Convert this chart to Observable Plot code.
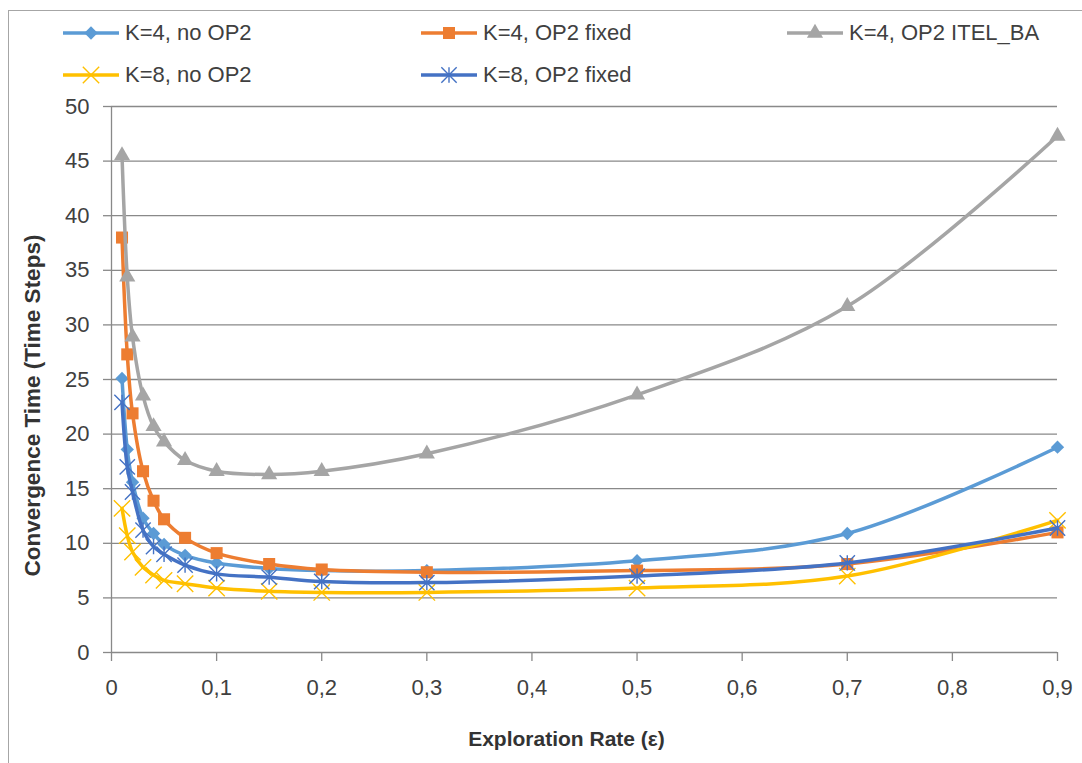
<!DOCTYPE html>
<html><head><meta charset="utf-8">
<script src="https://cdn.jsdelivr.net/npm/d3@7"></script>
<script src="https://cdn.jsdelivr.net/npm/@observablehq/plot@0.6"></script>
<style>
body{margin:0;background:#fff;font-family:"Liberation Sans",Arial,sans-serif;}
#wrap{position:relative;width:1082px;height:763px;overflow:hidden;}
#frame{position:absolute;left:8px;top:10px;width:1200px;height:900px;border-left:1.5px solid #a6a6a6;border-top:1.5px solid #a6a6a6;pointer-events:none;}
#legend{position:relative;height:95px;}
.item{position:absolute;display:flex;align-items:center;height:28px;font-size:22px;color:#404040;white-space:nowrap;}
.item svg{margin-right:6px;}
#chart{position:relative;}
</style></head>
<body>
<div id="wrap">
<div id="frame"></div>
<div id="legend"></div>
<div id="chart"></div>
</div>
<script>
// ---- data ----
const eps = [0.01, 0.015, 0.02, 0.03, 0.04, 0.05, 0.07, 0.1, 0.15, 0.2, 0.3, 0.5, 0.7, 0.9];
const k4NoOP2    = [25.1, 18.6, 15.6, 12.3, 10.9, 9.9, 8.9, 8.2, 7.7, 7.5, 7.5, 8.4, 10.9, 18.8];
const k4OP2Fixed = [38.0, 27.3, 21.9, 16.6, 13.9, 12.2, 10.5, 9.1, 8.1, 7.6, 7.35, 7.5, 8.1, 11.0];
const k4OP2Itel  = [45.5, 34.4, 28.9, 23.5, 20.7, 19.3, 17.6, 16.6, 16.3, 16.6, 18.2, 23.6, 31.7, 47.3];
const k8NoOP2    = [13.2, 10.7, 9.2, 7.8, 7.1, 6.6, 6.3, 5.9, 5.6, 5.5, 5.5, 5.9, 7.0, 12.1];
const k8OP2Fixed = [22.9, 17.0, 14.7, 11.2, 9.7, 9.0, 8.0, 7.2, 6.9, 6.5, 6.4, 7.0, 8.2, 11.4];
const seriesNames = ["K=4, no OP2", "K=4, OP2 fixed", "K=4, OP2 ITEL_BA", "K=8, no OP2", "K=8, OP2 fixed"];
const xTicks = [0, 0.1, 0.2, 0.3, 0.4, 0.5, 0.6, 0.7, 0.8, 0.9];
const yTicks = [0, 5, 10, 15, 20, 25, 30, 35, 40, 45, 50];
const xTitle = "Exploration Rate (ε)";
const yTitle = "Convergence Time (Time Steps)";

// Excel-style "star" marker: X with a vertical bar
const starSymbol = {
  draw(context, size) {
    const r = Math.sqrt(size / Math.PI) * 1.05;
    context.moveTo(-r, -r); context.lineTo(r, r);
    context.moveTo(-r, r); context.lineTo(r, -r);
    context.moveTo(0, -r); context.lineTo(0, r);
  }
};

const styles = [
  {color: "#5B9BD5", symbol: "diamond2", r: 6.0, filled: true},
  {color: "#ED7D31", symbol: "square", r: 6.8, filled: true},
  {color: "#A5A5A5", symbol: "triangle", r: 6.0, filled: true},
  {color: "#FFC000", symbol: "times", r: 7.5, filled: false},
  {color: "#4472C4", symbol: starSymbol, r: 7.3, filled: false}
];
const valuesList = [k4NoOP2, k4OP2Fixed, k4OP2Itel, k8NoOP2, k8OP2Fixed];

const series = seriesNames.map((name, k) => ({
  name, ...styles[k],
  data: eps.map((e, i) => ({eps: e, t: valuesList[k][i]}))
}));

// ---- legend ----
const legendPos = [
  {x: 63, y: 33}, {x: 421, y: 33}, {x: 787, y: 33},
  {x: 63, y: 75}, {x: 421, y: 75}
];
const legend = document.getElementById("legend");
series.forEach((s, k) => {
  const div = document.createElement("div");
  div.className = "item";
  div.style.left = legendPos[k].x + "px";
  div.style.top = (legendPos[k].y - 14) + "px";
  const svg = d3.create("svg").attr("width", 56).attr("height", 22);
  svg.append("line").attr("x1", 0).attr("x2", 56).attr("y1", 11).attr("y2", 11)
    .attr("stroke", s.color).attr("stroke-width", 3.5);
  const symType = typeof s.symbol === "string"
    ? {diamond2: d3.symbolDiamond2, square: d3.symbolSquare, triangle: d3.symbolTriangle, times: d3.symbolTimes}[s.symbol]
    : s.symbol;
  const path = d3.symbol(symType, s.r * s.r * Math.PI)();
  const p = svg.append("path").attr("d", path).attr("transform", "translate(28,11)");
  if (s.filled) p.attr("fill", s.color).attr("stroke", "none");
  else p.attr("fill", "none").attr("stroke", s.color).attr("stroke-width", 1.4);
  div.appendChild(svg.node());
  const span = document.createElement("span");
  span.textContent = s.name;
  div.appendChild(span);
  legend.appendChild(div);
});

// ---- chart ----
const fmt = d => d === 0 ? "0" : String(d).replace(".", ",");
const marks = [
  Plot.gridY({ticks: yTicks, stroke: "#898989", strokeOpacity: 1, strokeWidth: 1.3}),
  Plot.ruleX([0], {y1: 0, y2: 50, stroke: "#898989", strokeWidth: 1.3}),
  Plot.axisY({ticks: yTicks, tickSize: 8, tickPadding: 14, stroke: "#898989", strokeWidth: 1.3, fill: "#404040", label: null}),
  Plot.axisX({ticks: xTicks, tickSize: 9, tickPadding: 18, tickFormat: fmt, stroke: "#898989", strokeWidth: 1.3, fill: "#404040", label: null}),
];
series.forEach(s => {
  marks.push(Plot.line(s.data, {x: "eps", y: "t", stroke: s.color, strokeWidth: 3.5, curve: "catmull-rom"}));
  marks.push(Plot.dot(s.data, s.filled
    ? {x: "eps", y: "t", symbol: () => s.symbol, r: s.r, fill: s.color, stroke: "none"}
    : {x: "eps", y: "t", symbol: () => s.symbol, r: s.r, fill: "none", stroke: s.color, strokeWidth: 1.4}));
});
marks.push(Plot.text([yTitle], {frameAnchor: "left", textAnchor: "middle", rotate: -90, dx: -79, dy: 26, fontWeight: "bold", fontSize: 22.5, fill: "#333"}));
marks.push(Plot.text([xTitle], {frameAnchor: "bottom", textAnchor: "middle", dx: -18, dy: 93, fontWeight: "bold", fontSize: 21, fill: "#333"}));

const chart = Plot.plot({
  width: 1082,
  height: 668,
  marginLeft: 111,
  marginRight: 25,
  marginTop: 11,
  marginBottom: 111,
  x: {domain: [0, 0.9]},
  y: {domain: [0, 50]},
  symbol: {type: "identity"},
  style: {fontSize: "22px", fontFamily: '"Liberation Sans", Arial, sans-serif', background: "transparent", overflow: "visible"},
  marks
});
document.getElementById("chart").appendChild(chart);
</script>
</body></html>
